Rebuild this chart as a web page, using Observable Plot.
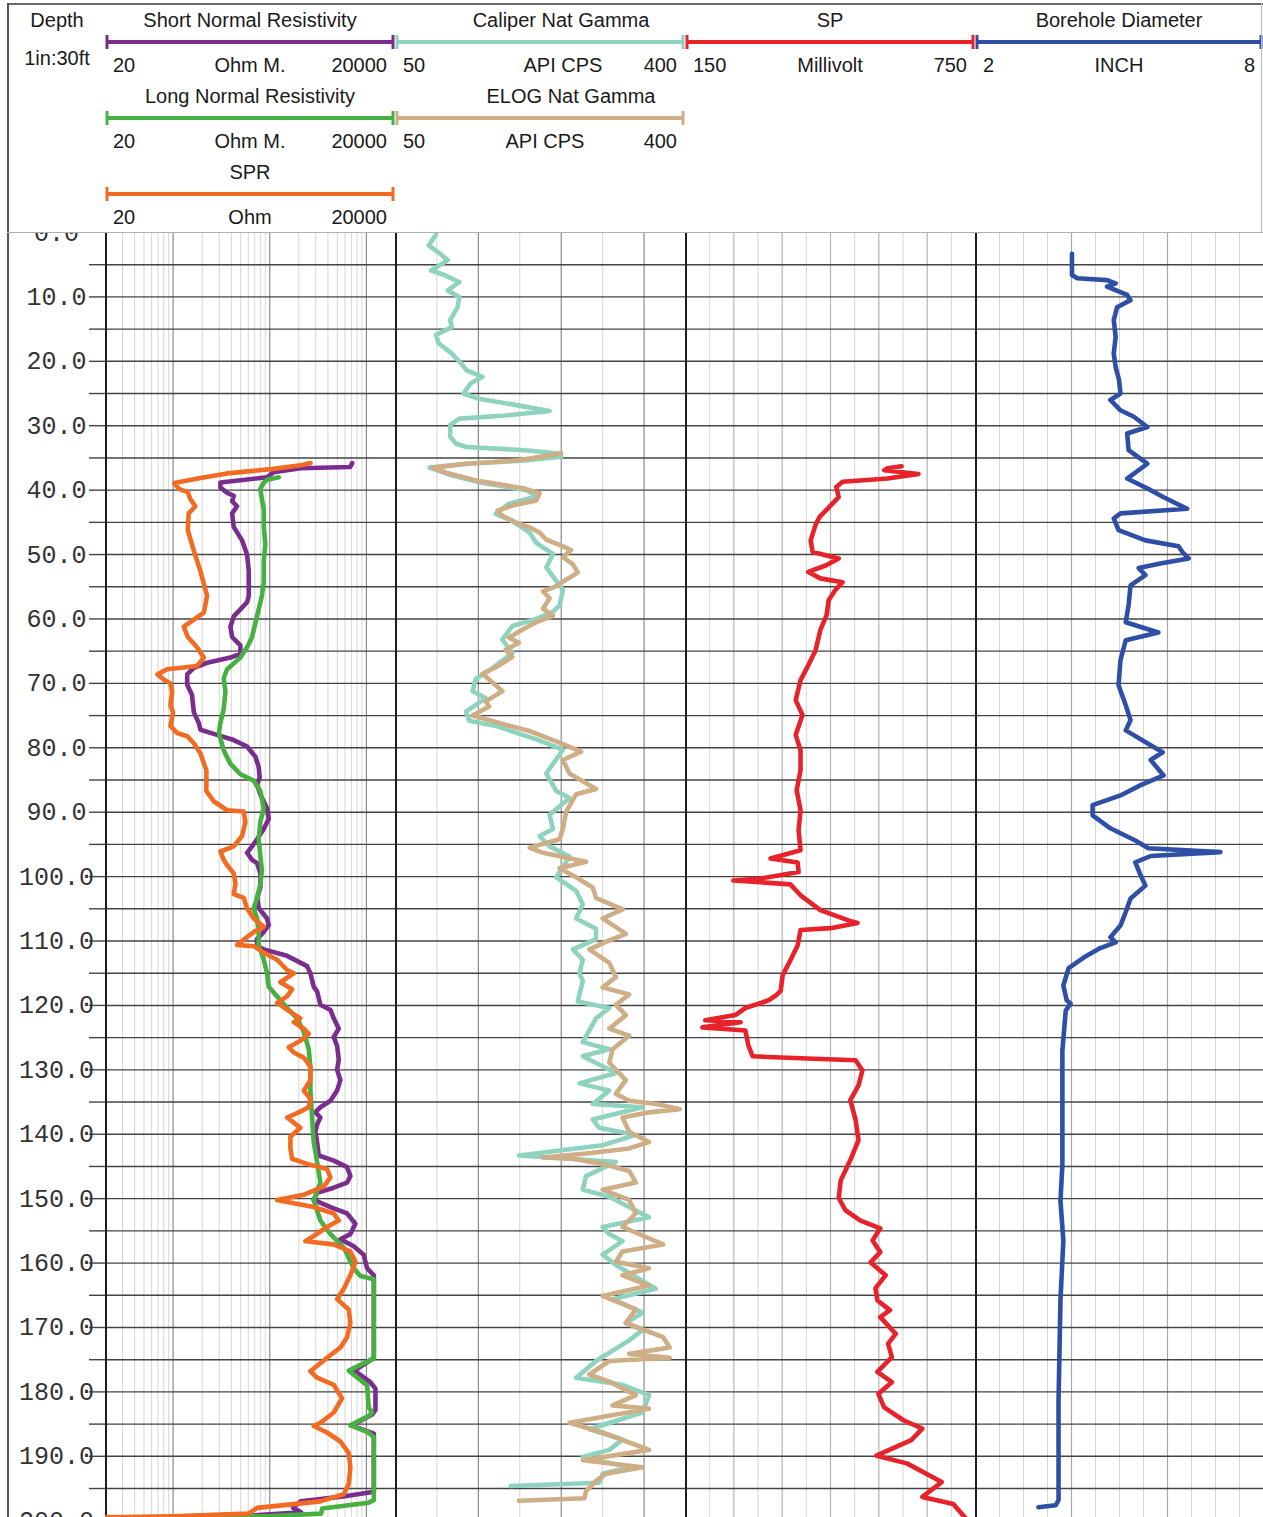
<!DOCTYPE html>
<html>
<head>
<meta charset="utf-8">
<script src="https://cdn.jsdelivr.net/npm/d3@7"></script>
<script src="https://cdn.jsdelivr.net/npm/@observablehq/plot@0.6"></script>
<style>
  body { margin: 0; background: #fff; }
  #chart { position: relative; width: 1263px; height: 1517px; overflow: hidden; background: #fff; }
  #header { position: absolute; left: 0; top: 0; }
  #tracks { position: absolute; left: 0; top: 232px; display: flex; }
  #tracks svg { flex: 0 0 auto; display: block; }
  .rule { position: absolute; }
</style>
</head>
<body>
<div id="chart">
  <svg id="header" width="1263" height="233"></svg>
  <div id="tracks"></div>
  <div class="rule" style="left:7px;top:3px;width:1256px;height:1.5px;background:#6a6a6a"></div>
  <div class="rule" style="left:7px;top:3px;width:1.5px;height:1514px;background:#555"></div>
  <div class="rule" style="left:7px;top:231.5px;width:1256px;height:1px;background:#b0b0b0"></div>
  <div class="rule" style="left:1261px;top:3px;width:1px;height:229px;background:#bbb"></div>
</div>
<script>
// ---------------- DATA ----------------
// depth axis (ft)
const depthTicks = [0,10,20,30,40,50,60,70,80,90,100,110,120,130,140,150,160,170,180,190,200];
const gridDepths = [5,10,15,20,25,30,35,40,45,50,55,60,65,70,75,80,85,90,95,100,105,110,115,120,125,130,135,140,145,150,155,160,165,170,175,180,185,190,195];

// header legend texts
const headerTitles = ["Short Normal Resistivity","Long Normal Resistivity","SPR","Caliper Nat Gamma","ELOG Nat Gamma","SP","Borehole Diameter"];
const headerUnits  = ["Ohm M.","Ohm M.","Ohm","API CPS","API CPS","Millivolt","INCH"];
const headerLo     = ["20","20","20","50","50","150","2"];
const headerHi     = ["20000","20000","20000","400","400","750","8"];

// track scale domains
const resDomain = [20, 20000];
const gammaDomain = [50, 400];
const spDomain = [150, 750];
const boreDomain = [2, 8];

// grid values
const resMinor = [30,40,50,60,70,80,90,200,300,400,500,600,700,800,900,2000,3000,4000,5000,6000,7000,8000,9000];
const resMajor = [100,1000,10000];
const gammaMinor = [100,200,300];
const gammaMajor = [150,250,350];
const spMinor = [200,300,400,500,600,700];
const spMajor = [250,350,450,550,650];
const boreMinor = [2.5,3,3.5,4.5,5,5.5,6.5,7,7.5];
const boreMajor = [4,6];

// curves: [depth ft, value]
const shortNormal = [[35.8,7130],[36.4,6800],[36.6,2080],[37.2,1100],[38.0,938],[38.8,309],[39.6,309],[40.4,362],[40.9,424],[41.7,408],[42.5,459],[43.6,408],[45.7,424],[47.8,517],[50.0,583],[52.6,607],[56.4,607],[57.4,583],[58.5,497],[59.6,424],[61.2,392],[62.8,408],[64.1,497],[65.4,497],[66.0,392],[66.8,225],[67.6,164],[68.6,140],[70.2,140],[71.8,157],[74.5,164],[76.1,184],[77.2,192],[78.0,285],[78.8,424],[79.8,583],[81.4,711],[83.0,769],[84.6,788],[85.7,740],[87.3,800],[89.4,938],[91.0,977],[92.6,867],[94.2,740],[95.3,656],[96.3,583],[97.4,656],[97.9,740],[99.5,800],[101.7,800],[103.3,740],[104.9,769],[106.5,938],[107.5,977],[108.6,867],[109.7,740],[110.7,740],[111.3,867],[112.3,1511],[113.9,2432],[115.0,2634],[117.1,2851],[117.8,3090],[119.9,3342],[120.7,4246],[122.0,4592],[123.6,5176],[124.9,4592],[126.3,4977],[128.4,5176],[130.0,4977],[131.6,5383],[133.2,4977],[134.8,4246],[135.8,3342],[136.6,2965],[137.4,3342],[138.5,3090],[139.6,2965],[141.2,3090],[143.3,3214],[144.1,4592],[145.1,6310],[146.5,6825],[147.5,6310],[148.3,4592],[149.1,3090],[150.2,2851],[151.3,4246],[152.3,6310],[153.9,7691],[155.5,6825],[156.3,5383],[157.4,7390],[158.7,9376],[160.8,10160],[161.9,11940],[174.7,11940],[175.3,10500],[176.7,7500],[178.5,11000],[179.5,12400],[182.8,12400],[183.5,11500],[185.2,7000],[186.5,11940],[195.5,11940],[196.2,6000],[197.0,2080],[198.0,1750],[198.7,2110],[199.3,499],[199.6,20]];

const longNormal = [[38.0,1240],[38.4,942],[38.9,860],[39.8,800],[41.4,830],[43.0,868],[45.7,868],[48.4,900],[51.0,868],[54.2,868],[56.4,830],[58.5,769],[60.6,711],[62.8,656],[64.4,583],[66.0,497],[67.8,362],[69.2,334],[71.3,348],[74.0,334],[76.1,309],[77.7,298],[80.4,334],[82.5,392],[84.1,497],[85.1,683],[86.7,800],[89.4,868],[91.5,800],[94.2,769],[96.9,800],[99.0,830],[101.1,800],[103.3,740],[104.9,683],[106.5,740],[108.6,769],[110.7,769],[112.9,868],[115.0,938],[117.1,977],[118.3,1146],[120.4,1511],[122.0,1918],[124.1,2249],[126.8,2531],[129.5,2634],[133.2,2634],[137.4,2742],[141.2,2851],[144.3,3090],[147.5,3342],[150.2,2851],[153.4,3342],[155.5,4246],[157.6,5834],[160.8,7390],[162.0,8670],[162.5,11940],[174.8,11940],[176.7,6580],[179.0,10190],[182.4,10560],[183.2,11470],[183.7,10560],[185.2,6840],[186.2,10190],[187.0,11940],[196.8,11940],[197.2,10500],[198.1,3490],[198.9,3400],[199.3,942],[199.6,20]];

const spr = [[35.8,2640],[36.1,2166],[36.7,1100],[37.4,362],[38.1,192],[38.9,103],[39.8,115],[40.3,142],[41.4,151],[42.5,170],[43.6,145],[46.2,142],[49.4,164],[52.6,192],[56.4,225],[59.0,208],[60.1,164],[61.2,129],[62.8,142],[64.4,177],[66.0,208],[67.3,177],[67.8,87],[68.6,69],[69.4,80],[70.0,94],[71.3,98],[73.4,94],[74.5,100],[76.6,94],[77.7,110],[78.2,140],[79.3,164],[80.9,192],[83.5,221],[86.7,221],[88.3,263],[89.7,362],[89.9,538],[91.5,560],[93.7,517],[95.3,424],[96.1,309],[97.4,334],[98.2,362],[99.5,424],[101.1,442],[102.7,424],[103.3,538],[104.9,583],[106.5,683],[107.8,867],[108.6,683],[110.6,459],[110.8,683],[111.8,867],[112.9,1191],[114.5,1511],[115.0,1771],[116.4,1290],[117.5,1702],[118.6,1511],[119.6,1191],[121.0,1636],[122.0,2075],[122.6,1771],[123.6,2249],[124.4,2531],[125.5,2075],[126.5,1574],[127.3,1771],[128.1,2249],[129.5,2634],[131.6,2634],[133.2,2249],[134.5,2634],[135.8,2531],[136.6,1995],[137.4,1511],[138.2,1771],[139.0,2075],[140.4,1636],[142.2,1636],[143.8,1702],[144.6,2432],[145.4,3917],[146.7,4246],[148.1,3622],[149.4,2249],[150.2,1191],[150.7,1771],[151.3,2851],[152.3,4592],[153.4,5176],[154.4,3917],[155.8,2851],[156.6,2339],[157.1,4592],[158.2,6825],[159.8,7691],[161.9,6825],[164.0,5834],[165.6,4977],[167.2,6561],[169.3,6825],[171.5,6310],[173.1,5383],[174.7,3917],[176.8,2634],[177.8,3090],[178.9,4592],[181.0,5598],[183.2,4592],[184.8,3342],[185.3,2851],[186.3,3917],[187.7,5383],[189.5,6561],[191.7,6825],[194.3,6561],[195.9,5834],[197.0,3342],[198.0,740],[198.9,600],[199.3,100],[199.45,20]];

const caliperGamma = [[0.3,99],[2.0,90],[3.3,104],[4.3,113],[5.9,93],[6.6,109],[7.7,127],[9.0,113],[10.0,127],[11.6,125],[13.6,116],[14.7,118],[15.9,99],[17.2,102],[18.8,118],[20.3,129],[21.4,136],[22.4,155],[23.4,141],[25.0,132],[25.8,150],[26.8,196],[27.7,236],[28.4,183],[28.9,127],[29.9,116],[31.7,116],[32.8,123],[33.3,136],[33.8,206],[34.3,247],[34.8,250],[35.4,206],[35.9,136],[36.5,91],[37.6,115],[38.9,155],[40.0,208],[41.0,220],[42.1,187],[43.7,171],[44.8,191],[46.6,212],[48.2,220],[49.9,240],[52.0,232],[54.1,244],[55.5,252],[57.9,248],[58.9,240],[60.0,220],[61.1,191],[63.2,179],[65.3,191],[68.0,163],[69.3,147],[71.2,143],[72.3,159],[74.4,135],[75.8,139],[76.6,171],[78.7,220],[80.3,252],[84.0,232],[86.7,244],[87.8,260],[90.4,236],[92.6,240],[93.7,224],[95.3,236],[96.9,260],[100.1,244],[102.2,268],[104.3,276],[106.5,268],[108.1,292],[109.7,292],[111.3,264],[112.9,276],[115.0,272],[116.2,276],[119.4,270],[120.4,308],[122.0,292],[125.7,276],[126.8,308],[127.9,276],[130.5,316],[132.1,272],[133.2,308],[135.3,288],[135.8,348],[137.7,288],[139.0,296],[140.1,340],[141.7,300],[143.3,199],[143.8,260],[144.3,316],[146.5,280],[148.6,276],[149.7,308],[152.9,356],[154.4,300],[155.5,308],[156.6,324],[158.7,300],[160.3,316],[164.0,364],[165.6,312],[167.7,348],[169.3,328],[170.4,348],[172.0,332],[175.2,292],[177.8,268],[178.9,324],[180.5,356],[183.2,348],[185.8,284],[187.4,324],[189.0,308],[190.1,276],[191.7,332],[192.7,300],[194.1,296],[194.6,189]];

const elogGamma = [[34.3,250],[35.4,196],[35.9,136],[36.5,95],[37.3,111],[38.6,151],[39.7,204],[40.5,224],[41.6,220],[42.4,191],[43.2,173],[44.0,179],[45.0,195],[45.8,212],[46.6,224],[47.7,232],[48.5,248],[49.3,262],[50.4,252],[51.5,264],[52.8,270],[53.9,256],[54.9,244],[55.7,228],[56.8,236],[58.4,228],[59.5,240],[60.5,220],[61.6,204],[62.9,187],[63.7,199],[64.8,183],[65.9,191],[67.5,171],[68.5,155],[71.2,179],[72.8,159],[73.6,163],[75.0,143],[76.0,171],[77.4,212],[79.0,244],[80.6,274],[81.9,252],[84.0,260],[86.4,292],[87.2,268],[89.9,256],[92.6,252],[94.2,248],[95.5,212],[96.3,228],[97.7,280],[98.7,248],[100.1,268],[101.7,288],[103.3,292],[105.1,324],[106.5,300],[107.5,312],[108.9,328],[109.9,308],[111.3,284],[113.4,308],[115.6,316],[117.2,300],[118.3,332],[119.9,316],[121.5,328],[123.6,308],[124.7,332],[126.8,312],[128.9,308],[131.6,328],[133.7,316],[134.8,332],[135.3,365],[136.1,393],[136.6,356],[137.4,324],[139.6,332],[141.2,356],[142.2,332],[143.0,280],[143.6,228],[143.8,264],[144.6,300],[145.7,332],[147.5,340],[148.6,300],[150.2,332],[152.3,340],[154.4,324],[157.1,373],[158.2,324],[159.8,316],[160.8,356],[161.9,324],[163.5,356],[165.1,300],[167.2,340],[169.3,328],[171.5,373],[173.1,381],[174.1,332],[174.7,381],[175.2,308],[177.3,284],[178.4,308],[180.5,340],[182.1,312],[182.6,356],[184.8,260],[186.3,300],[189.0,356],[190.6,276],[191.7,348],[192.7,304],[193.8,292],[195.4,280],[196.5,278],[196.9,199]];

const spCurve = [[36.3,597],[36.6,568],[36.9,561],[37.5,632],[38.2,568],[38.7,475],[39.5,462],[41.1,467],[42.1,454],[44.2,427],[45.4,419],[47.8,409],[49.6,413],[50.6,467],[51.7,440],[52.7,404],[53.7,429],[54.3,475],[55.5,460],[57.1,446],[59.4,442],[61.7,429],[64.9,419],[67.2,404],[69.5,388],[72.6,378],[74.9,392],[78.0,378],[80.4,388],[83.5,388],[86.6,380],[89.7,388],[92.8,384],[95.9,388],[97.2,326],[97.8,382],[99.3,384],[100.3,305],[100.6,249],[101.2,367],[102.9,388],[105.2,429],[106.8,487],[107.2,506],[108.0,450],[108.3,388],[110.7,382],[113.0,367],[115.3,351],[117.7,347],[118.4,338],[119.2,322],[120.4,274],[121.5,253],[122.3,191],[122.6,264],[123.4,185],[123.9,274],[126.2,280],[127.9,289],[128.2,388],[128.5,502],[130.1,516],[132.4,508],[134.7,491],[137.8,502],[140.9,508],[144.0,491],[147.2,471],[149.9,467],[151.8,481],[153.4,512],[154.6,553],[156.5,537],[158.3,553],[159.9,533],[161.9,564],[163.9,543],[165.8,547],[167.3,573],[168.4,553],[171.0,585],[172.5,569],[174.6,577],[176.9,547],[178.5,577],[180.3,549],[182.4,561],[184.4,601],[185.7,640],[187.5,617],[189.9,545],[191.1,608],[194.0,680],[196.3,640],[197.4,704],[199.4,727],[200.0,735]];

const boreholeDiameter = [[3.3,4.01],[6.6,4.01],[7.1,4.12],[7.4,4.74],[7.9,4.92],[8.4,4.74],[9.7,5.16],[10.5,5.23],[11.6,4.95],[13.6,4.88],[16.2,4.92],[18.8,4.88],[20.9,4.92],[22.9,4.99],[25.0,5.02],[26.0,4.81],[27.6,5.02],[28.6,5.30],[30.2,5.58],[31.2,5.16],[33.8,5.19],[35.9,5.58],[38.2,5.16],[40.0,5.65],[41.1,5.92],[42.9,6.41],[43.6,5.02],[44.4,4.88],[46.2,4.98],[47.8,5.54],[48.7,6.23],[49.6,6.31],[50.6,6.44],[51.4,5.85],[52.1,5.40],[53.2,5.54],[54.8,5.23],[57.8,5.19],[60.5,5.13],[62.1,5.81],[63.3,5.13],[66.4,5.02],[70.3,4.98],[73.4,5.13],[75.7,5.23],[77.3,5.13],[79.6,5.65],[80.7,5.90],[81.9,5.65],[84.3,5.92],[85.8,5.44],[87.4,5.02],[88.9,4.44],[90.5,4.44],[92.5,4.81],[94.4,5.33],[95.6,5.60],[96.2,7.10],[96.8,5.65],[97.8,5.33],[99.8,5.44],[101.4,5.54],[103.4,5.23],[105.5,5.13],[107.6,5.02],[109.4,4.81],[110.2,4.92],[111.1,4.60],[112.4,4.29],[114.2,3.94],[116.9,3.83],[119.2,3.90],[119.7,3.98],[120.8,3.88],[127.0,3.81],[134.7,3.81],[144.8,3.81],[150.3,3.77],[156.5,3.83],[165.8,3.77],[181.3,3.73],[189.1,3.73],[196.8,3.73],[197.6,3.67],[197.9,3.31]];

// ---------------- STYLE / LAYOUT ----------------
const colors = {
  shortNormal: "#7b2d8e", longNormal: "#46b040", spr: "#f26b22",
  caliper: "#8ed3bf", elog: "#cfae86", sp: "#e8222b", bore: "#2f4fa7"
};
const headerColors = [colors.shortNormal, colors.longNormal, colors.spr, colors.caliper, colors.elog, colors.sp, colors.bore];
const headerTrack = [0,0,0,1,1,2,3];
const headerRow   = [0,1,2,0,1,0,0];
const trackLeft  = [105, 395, 685, 975];
const trackRight = [395, 685, 975, 1263];
const titleShift = [0,0,0,21,31,0,0];
const unitShift  = [0,0,0,23,5,0,0];
const rowTitleY = [20, 96, 172], rowBarY = [42, 118, 194], rowLabelY = [65, 141, 217];
const FONT = "'Liberation Sans', Arial, sans-serif";

// ---------------- HEADER ----------------
const hdr = d3.select("#header");
function htext(x, y, s, anchor) {
  hdr.append("text").attr("x", x).attr("y", y).attr("dy", "0.35em")
    .attr("text-anchor", anchor).attr("font-family", FONT).attr("font-size", 20)
    .attr("fill", "#1a1a1a").text(s);
}
htext(57, rowTitleY[0], "Depth", "middle");
htext(57, 58, "1in:30ft", "middle");
headerTitles.forEach((t, i) => {
  const L = trackLeft[headerTrack[i]], R = trackRight[headerTrack[i]];
  const c = (L + R) / 2, r = headerRow[i], col = headerColors[i];
  htext(c + titleShift[i], rowTitleY[r], t, "middle");
  const by = rowBarY[r];
  hdr.append("line").attr("x1", L + 2).attr("x2", R - 2).attr("y1", by).attr("y2", by)
    .attr("stroke", col).attr("stroke-width", 4);
  [L + 2, R - 2].forEach(x => hdr.append("line").attr("x1", x).attr("x2", x)
    .attr("y1", by - 7).attr("y2", by + 7).attr("stroke", col).attr("stroke-width", 3));
  htext(L + 8, rowLabelY[r], headerLo[i], "start");
  htext(c + unitShift[i], rowLabelY[r], headerUnits[i], "middle");
  htext(R - 8, rowLabelY[r], headerHi[i], "end");
});

// ---------------- TRACKS ----------------
const H = 1285;
const Y = {domain: [0, 199.5], reverse: true, axis: null};
const base = {height: H, marginTop: 0, marginBottom: 0, marginLeft: 0, marginRight: 0,
  style: {background: "white", overflow: "hidden"}};
const pts = arr => arr.map(([d, v]) => ({d, v}));

const depthPlot = Plot.plot({
  ...base, width: 105, marginLeft: 89,
  y: {domain: [0, 199.5], reverse: true, label: null},
  marks: [
    Plot.ruleY(gridDepths, {stroke: "#444", strokeWidth: 1.4}),
    Plot.axisY(depthTicks, {anchor: "left", tickSize: 0, tickPadding: 33, textAnchor: "middle",
      tickFormat: d => d.toFixed(1), fontSize: 25, fill: "#333", label: null,
      fontFamily: "'Liberation Mono', 'DejaVu Sans Mono', monospace"})
  ]
});

function trackPlot(width, xScale, minor, major, majorColor, curves) {
  return Plot.plot({
    ...base, width,
    x: {...xScale, axis: null},
    y: Y,
    marks: [
      Plot.ruleX(minor, {stroke: "#d6d6d6", strokeWidth: 1}),
      Plot.ruleX(major, {stroke: majorColor, strokeWidth: 1.2}),
      Plot.ruleY(gridDepths, {stroke: "#444", strokeWidth: 1.4}),
      Plot.ruleX([xScale.domain[0]], {stroke: "#1e1e1e", strokeWidth: 3}),
      ...curves.map(([data, color]) => Plot.line(pts(data), {
        x: "v", y: "d", stroke: color, strokeWidth: 4.6,
        strokeLinejoin: "round", strokeLinecap: "round", clip: true
      }))
    ]
  });
}

const resPlot = trackPlot(290, {type: "log", domain: resDomain}, resMinor, resMajor, "#8c8c8c",
  [[shortNormal, colors.shortNormal], [longNormal, colors.longNormal], [spr, colors.spr]]);
const gammaPlot = trackPlot(290, {type: "linear", domain: gammaDomain}, gammaMinor, gammaMajor, "#8c8c8c",
  [[caliperGamma, colors.caliper], [elogGamma, colors.elog]]);
const spPlot = trackPlot(290, {type: "linear", domain: spDomain}, spMinor, spMajor, "#b4b4b4",
  [[spCurve, colors.sp]]);
const borePlot = trackPlot(288, {type: "linear", domain: boreDomain}, boreMinor, boreMajor, "#a8a8a8",
  [[boreholeDiameter, colors.bore]]);

const tracks = document.getElementById("tracks");
[depthPlot, resPlot, gammaPlot, spPlot, borePlot].forEach(p => tracks.appendChild(p));
</script>
</body>
</html>
